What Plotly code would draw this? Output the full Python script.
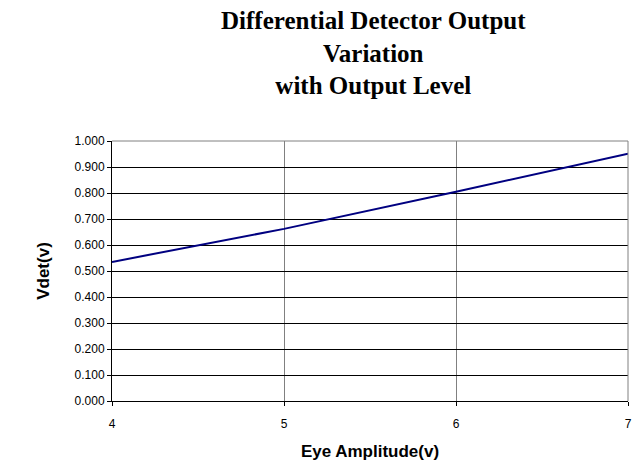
import plotly.graph_objects as go

# Data
eye_amplitude = [4, 5, 6, 7]
vdet = [0.535, 0.662, 0.805, 0.951]
y_ticks = [0.0, 0.1, 0.2, 0.3, 0.4, 0.5, 0.6, 0.7, 0.8, 0.9, 1.0]
x_ticks = [4, 5, 6, 7]
title_lines = ["Differential Detector Output", "Variation", "with Output Level"]

fig = go.Figure()
fig.add_trace(go.Scatter(
    x=eye_amplitude, y=vdet, mode="lines",
    line=dict(color="#000080", width=2),
    showlegend=False, hoverinfo="x+y",
))

fig.update_layout(
    width=637, height=466,
    margin=dict(l=112, r=9, t=141, b=65, autoexpand=False),
    paper_bgcolor="white", plot_bgcolor="white",
    font=dict(family="Liberation Sans, Arial, sans-serif", color="black"),
)

# Title (three lines) as an annotation for precise placement
fig.add_annotation(
    text="<b>" + "<br>".join(title_lines) + "</b>",
    xref="paper", yref="paper", x=0.506, y=1.338,
    xanchor="center", yanchor="middle", showarrow=False,
    font=dict(family="Liberation Serif, Times New Roman, serif", size=25, color="black"),
)

fig.update_xaxes(
    range=[4, 7], tickvals=x_ticks, ticktext=[str(v) for v in x_ticks],
    showgrid=True, gridcolor="#808080", gridwidth=1,
    showline=True, linecolor="black", linewidth=1,
    ticks="outside", ticklen=4, tickcolor="black",
    tickfont=dict(size=12), ticklabelstandoff=8, zeroline=False,
    title=dict(text="<b>Eye Amplitude(v)</b>", font=dict(size=17), standoff=14),
)
fig.update_yaxes(
    range=[0, 1.0], tickvals=y_ticks, tickformat=".3f",
    showgrid=True, gridcolor="black", gridwidth=1,
    showline=True, linecolor="black", linewidth=1,
    ticks="outside", ticklen=4, tickcolor="black",
    tickfont=dict(size=12), zeroline=False,
    title=dict(text="<b>Vdet(v)</b>", font=dict(size=17), standoff=20),
)

# grey frame on top and right
fig.add_shape(type="line", xref="paper", yref="paper", x0=0, x1=1, y0=1, y1=1,
              line=dict(color="#808080", width=1), layer="above")
fig.add_shape(type="line", xref="paper", yref="paper", x0=1, x1=1, y0=0, y1=1,
              line=dict(color="#808080", width=1), layer="above")

fig.write_html("out.html", config={"displayModeBar": False},
               post_script="document.body.style.margin='0px';")
